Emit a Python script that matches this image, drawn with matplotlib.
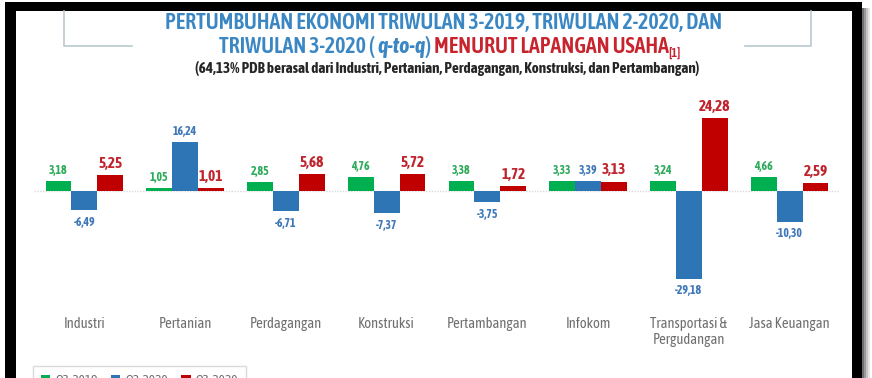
import numpy as np
import matplotlib
matplotlib.use("Agg")
import matplotlib.pyplot as plt
from matplotlib import font_manager as fm
from matplotlib.patches import Rectangle
from matplotlib.lines import Line2D

# Pick a narrow font with a bold weight if present
available = {f.name for f in fm.fontManager.ttflist}
font = next((f for f in ['Asap Condensed', 'Carlito', 'Liberation Sans'] if f in available),
            'DejaVu Sans')
plt.rcParams['font.family'] = [font, 'DejaVu Sans']

# Data
categories = ['Industri', 'Pertanian', 'Perdagangan', 'Konstruksi', 'Pertambangan',
              'Infokom', 'Transportasi &\nPergudangan', 'Jasa Keuangan']
q3_2019 = [3.18, 1.05, 2.85, 4.76, 3.38, 3.33, 3.24, 4.66]
q2_2020 = [-6.49, 16.24, -6.71, -7.37, -3.75, 3.39, -29.18, -10.30]
q3_2020 = [5.25, 1.01, 5.68, 5.72, 1.72, 3.13, 24.28, 2.59]
series_names = ['Q3-2019', 'Q2-2020', 'Q3-2020']

W, H = 872, 378
fig = plt.figure(figsize=(W / 100, H / 100), dpi=100)
fig.patch.set_facecolor('white')
renderer = fig.canvas.get_renderer()


def px(x, y):
    # pixel (from top-left) -> figure coords
    return x / W, 1 - y / H


def rect(x0, y0, x1, y1, color, z=-5):
    fx, fy = px(x0, y1)
    fig.add_artist(Rectangle((fx, fy), (x1 - x0) / W, (y1 - y0) / H,
                             transform=fig.transFigure, color=color, zorder=z, lw=0))


def fit(t, target):
    # rescale font so the text is target pixels wide
    wd = t.get_window_extent(renderer).width
    t.set_fontsize(t.get_fontsize() * target / wd)


# Frame with shadow
for i, c in enumerate(['#6f6f6f', '#9a9a9a', '#c4c4c4', '#e4e4e4']):
    rect(862 + 2 * i, 8, 864 + 2 * i, H + 5, c)
rect(5, 2, 862, H + 5, 'black')
rect(16, 11, 852, H + 5, 'white', z=-4)

# Title box lines
lc = '#b9c9cf'
for xs, ys in [([64, 64, 132], [11, 46, 46]), ([811, 811, 745], [11, 46, 46])]:
    fx = [x / W for x in xs]
    fy = [1 - y / H for y in ys]
    fig.add_artist(Line2D(fx, fy, transform=fig.transFigure, color=lc, lw=1.2))

# Axes
x0, x1, ytop, ybot, y0 = 34, 840, 100, 300, 191
ppu = 3.0
ax = fig.add_axes([x0 / W, 1 - ybot / H, (x1 - x0) / W, (ybot - ytop) / H])
ax.set_facecolor('none')
ax.set_xlim(-0.5, len(categories) - 0.5)
ax.set_ylim(-(ybot - y0) / ppu, (y0 - ytop) / ppu)
for s in ax.spines.values():
    s.set_visible(False)
ax.set_yticks([])
ax.axhline(0, color='#dcdcdc', lw=1, ls=(0, (1, 1)), zorder=0)

x = np.arange(len(categories))
w = 0.257
colors = ['#00B050', '#2E75B6', '#C00000']
lab_colors = ['#2EAA5C', '#3F78B8', '#C0252E']
lab_sizes = [8.5, 8.5, 11]
for k, (vals, name) in enumerate(zip([q3_2019, q2_2020, q3_2020], series_names)):
    pos = x + (k - 1) * w
    ax.bar(pos, vals, width=w, color=colors[k], label=name, zorder=2)
    for xp, v in zip(pos, vals):
        txt = f"{v:.2f}".replace('.', ',')
        if v >= 0:
            ax.annotate(txt, (xp, v), xytext=(0, 3), textcoords='offset points',
                        ha='center', va='bottom', color=lab_colors[k],
                        fontsize=lab_sizes[k], fontweight='bold')
        else:
            ax.annotate(txt, (xp, v), xytext=(0, -4), textcoords='offset points',
                        ha='center', va='top', color=lab_colors[k],
                        fontsize=lab_sizes[k], fontweight='bold')

ax.set_xticks(x)
ax.set_xticklabels(categories, fontsize=10.5, color='#6f6f6f', linespacing=1.2)
ax.tick_params(axis='x', length=0, pad=12)

leg = ax.legend(loc='upper left', bbox_to_anchor=px(33, 366), bbox_transform=fig.transFigure,
                ncol=3, fontsize=9.5, frameon=True, fancybox=False, edgecolor='#d0d0d0',
                handlelength=0.7, handleheight=0.7, columnspacing=1.0, handletextpad=0.4,
                borderpad=0.6, borderaxespad=0, labelcolor='#6f6f6f')

# Titles
blue = '#3A87C4'
red = '#C8242E'
t1 = fig.text(*px(444, 23), 'PERTUMBUHAN EKONOMI TRIWULAN 3-2019, TRIWULAN 2-2020, DAN',
              ha='center', va='center', fontsize=14, fontweight=600, color=blue)
fit(t1, 558)

parts = [('TRIWULAN 3-2020 ( ', blue, 'normal', 1.0, 0),
         ('q-to-q', blue, 'italic', 1.0, 0),
         (') ', blue, 'normal', 1.0, 0),
         ('MENURUT LAPANGAN USAHA', red, 'normal', 1.0, 0),
         ('[1]', red, 'normal', 0.6, -4)]
fs2 = t1.get_fontsize()
texts = []
for s, c, st, rel, dy in parts:
    t = fig.text(0, 0, s, ha='left', va='baseline', fontsize=fs2 * rel, fontweight=600,
                 color=c, style=st)
    texts.append((t, dy))
widths = [t.get_window_extent(renderer).width for t, _ in texts]
cur = 450 - sum(widths) / 2
base = 53
for (t, dy), wd in zip(texts, widths):
    t.set_position(px(cur, base - dy))
    cur += wd

t3 = fig.text(*px(447, 69), '(64,13% PDB berasal dari Industri, Pertanian, Perdagangan, Konstruksi, dan Pertambangan)',
              ha='center', va='center', fontsize=11, fontweight='bold', color='#262626')
fit(t3, 504)

fig.savefig('out.png', dpi=100)
